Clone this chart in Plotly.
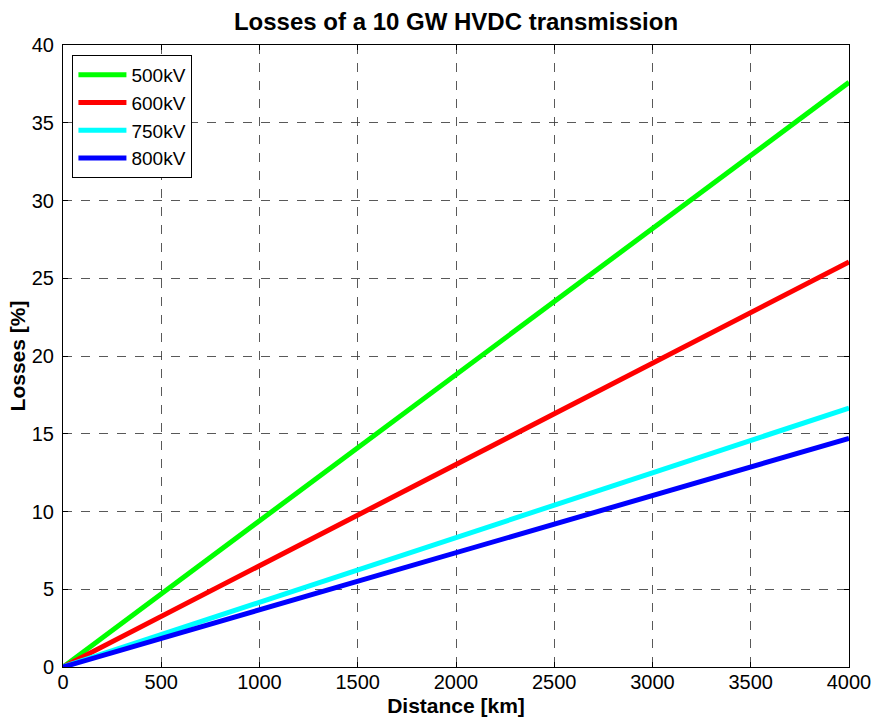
import plotly.graph_objects as go

# Transmission distance in km
distance_km = [0, 1000, 2000, 3000, 4000]

# Losses in percent for each DC voltage level
losses_500kv = [0.0, 9.4, 18.8, 28.2, 37.6]
losses_600kv = [0.0, 6.5, 13.0, 19.55, 26.05]
losses_750kv = [0.0, 4.17, 8.33, 12.5, 16.65]
losses_800kv = [0.0, 3.68, 7.35, 11.03, 14.7]

series = [
    ("500kV", losses_500kv, "#00ff00"),
    ("600kV", losses_600kv, "#ff0000"),
    ("750kV", losses_750kv, "#00ffff"),
    ("800kV", losses_800kv, "#0000ff"),
]

x_ticks = [0, 500, 1000, 1500, 2000, 2500, 3000, 3500, 4000]
y_ticks = [0, 5, 10, 15, 20, 25, 30, 35, 40]

font_family = "Liberation Sans, Arial, sans-serif"
fig_h = 719

fig = go.Figure()
for name, vals, color in series:
    fig.add_trace(go.Scatter(
        x=distance_km, y=vals, mode="lines", name=name,
        line=dict(color=color, width=5),
    ))

axis_common = dict(
    showline=True, linecolor="black", linewidth=1, mirror="ticks",
    ticks="inside", ticklen=5, tickcolor="black",
    showgrid=True, gridcolor="rgba(60,60,60,0.85)", gridwidth=1, griddash="dash",
    zeroline=False, automargin=False,
    tickfont=dict(size=20, color="black", family=font_family),
)

fig.update_layout(
    width=874, height=fig_h,
    margin=dict(l=63, r=25, t=45, b=52),
    paper_bgcolor="white", plot_bgcolor="white",
    font=dict(family=font_family, color="black"),
    title=dict(
        text="<b>Losses of a 10 GW HVDC transmission</b>",
        x=0.5, xref="paper", xanchor="center",
        y=1 - 22 / fig_h, yref="container", yanchor="middle",
        font=dict(size=24, color="black", family=font_family),
    ),
    xaxis=dict(
        range=[0, 4000], tickvals=x_ticks, ticklabelstandoff=-3,
        title=dict(text="<b>Distance [km]</b>", standoff=6,
                   font=dict(size=21, color="black", family=font_family)),
        **axis_common,
    ),
    yaxis=dict(
        range=[0, 40], tickvals=y_ticks, ticklabelstandoff=4,
        title=dict(text="<b>Losses [%]</b>", standoff=0,
                   font=dict(size=21, color="black", family=font_family)),
        **axis_common,
    ),
    legend=dict(
        x=0.012, y=0.984, xanchor="left", yanchor="top",
        bgcolor="white", bordercolor="black", borderwidth=1,
        font=dict(size=19, color="black", family=font_family),
        tracegroupgap=0, itemwidth=48,
    ),
    showlegend=True,
)

fig.write_html("out.html")
